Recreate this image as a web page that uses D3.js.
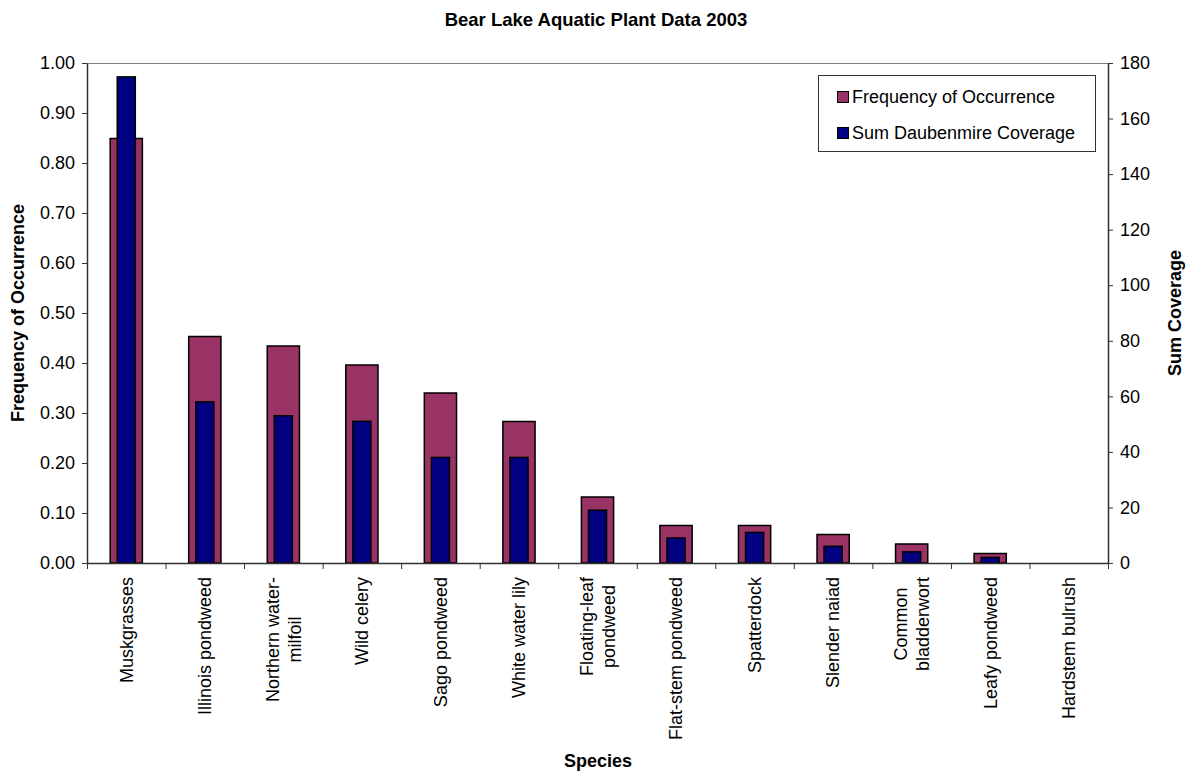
<!DOCTYPE html>
<html>
<head>
<meta charset="utf-8">
<script src="https://cdn.jsdelivr.net/npm/d3@7"></script>
<style>
  html, body { margin: 0; padding: 0; background: #fff; }
  svg { display: block; font-family: "Liberation Sans", Arial, sans-serif; }
</style>
</head>
<body>
<svg id="chart" width="1190" height="771"></svg>
<script>
// Species (line breaks mark where a long name wraps under the axis)
const categories = [
  "Muskgrasses",
  "Illinois pondweed",
  "Northern water-\nmilfoil",
  "Wild celery",
  "Sago pondweed",
  "White water lily",
  "Floating-leaf\npondweed",
  "Flat-stem pondweed",
  "Spatterdock",
  "Slender naiad",
  "Common\nbladderwort",
  "Leafy pondweed",
  "Hardstem bulrush"
];
// Frequency of occurrence (left axis)
const frequency = [0.849, 0.453, 0.434, 0.396, 0.340, 0.283, 0.132, 0.075, 0.075, 0.057, 0.038, 0.019, 0];
// Sum of Daubenmire coverage (right axis)
const coverage = [175, 58, 53, 51, 38, 38, 19, 9, 11, 6, 4, 2, 0];
const freqTicks = [0, 0.1, 0.2, 0.3, 0.4, 0.5, 0.6, 0.7, 0.8, 0.9, 1.0];
const coverageTicks = [0, 20, 40, 60, 80, 100, 120, 140, 160, 180];
const seriesNames = ["Frequency of Occurrence", "Sum Daubenmire Coverage"];
const seriesColors = ["#993366", "#000080"];

const svg = d3.select("#chart");
const plot = { left: 87, right: 1108, top: 63, bottom: 563 };

const x = d3.scaleBand().domain(categories).range([plot.left, plot.right]);
const xIdx = d3.scaleLinear().domain([0, categories.length]).range([plot.left, plot.right]);
const yFreq = d3.scaleLinear().domain([0, 1]).range([plot.bottom, plot.top]);
const yCov = d3.scaleLinear().domain([0, 180]).range([plot.bottom, plot.top]);

// Plot-area top edge
svg.append("line")
  .attr("x1", plot.left).attr("x2", plot.right)
  .attr("y1", plot.top + 0.5).attr("y2", plot.top + 0.5)
  .attr("stroke", "#808080").attr("stroke-width", 1);

const bw = x.bandwidth();
const freqW = bw * 0.41;
const covW = bw * 0.23;

// Frequency bars
svg.append("g").selectAll("rect")
  .data(categories.map((c, i) => ({ c, v: frequency[i] })).filter(d => d.v > 0))
  .join("rect")
  .attr("x", d => x(d.c) + (bw - freqW) / 2)
  .attr("width", freqW)
  .attr("y", d => yFreq(d.v))
  .attr("height", d => plot.bottom - yFreq(d.v))
  .attr("fill", seriesColors[0])
  .attr("stroke", "#000").attr("stroke-width", 1.5);

// Coverage bars, drawn in front
svg.append("g").selectAll("rect")
  .data(categories.map((c, i) => ({ c, v: coverage[i] })).filter(d => d.v > 0))
  .join("rect")
  .attr("x", d => x(d.c) + (bw - covW) / 2)
  .attr("width", covW)
  .attr("y", d => yCov(d.v))
  .attr("height", d => plot.bottom - yCov(d.v))
  .attr("fill", seriesColors[1])
  .attr("stroke", "#000").attr("stroke-width", 1.5);

const tickFont = 18;

// Left axis
const left = svg.append("g")
  .attr("transform", `translate(${plot.left},0)`)
  .call(d3.axisLeft(yFreq).tickValues(freqTicks).tickFormat(d3.format(".2f")).tickSize(5).tickSizeOuter(0).tickPadding(7));
// Right axis
const right = svg.append("g")
  .attr("transform", `translate(${plot.right},0)`)
  .call(d3.axisRight(yCov).tickValues(coverageTicks).tickSize(5).tickSizeOuter(0).tickPadding(7));
// Category axis: ticks between the species
const bottom = svg.append("g")
  .attr("transform", `translate(0,${plot.bottom})`)
  .call(d3.axisBottom(xIdx).tickValues(d3.range(0, categories.length + 1)).tickFormat("").tickSize(6).tickSizeOuter(0));

[left, right, bottom].forEach(g => {
  g.selectAll("path.domain").attr("stroke", "#333").attr("stroke-width", 1.5);
  g.selectAll(".tick line").attr("stroke", "#333");
  g.selectAll(".tick text").attr("font-size", tickFont).attr("fill", "#000")
    .attr("font-family", '"Liberation Sans", Arial, sans-serif');
});

// Rotated species labels, each block centred on its bar
const lineH = 22;
const labelTop = 577;
categories.forEach(c => {
  const lines = c.split("\n");
  const g = svg.append("g")
    .attr("transform", `translate(${x(c) + bw / 2},${labelTop}) rotate(-90)`);
  const texts = lines.map((ln, k) => g.append("text")
    .attr("y", (k - (lines.length - 1) / 2) * lineH)
    .attr("dy", "0.35em")
    .attr("font-size", tickFont)
    .attr("text-anchor", "middle")
    .text(ln));
  const maxW = d3.max(texts, t => t.node().getComputedTextLength());
  texts.forEach(t => t.attr("x", -maxW / 2));
});

// Titles
svg.append("text")
  .attr("x", 596).attr("y", 26)
  .attr("text-anchor", "middle").attr("font-size", 18.5).attr("font-weight", "bold")
  .text("Bear Lake Aquatic Plant Data 2003");
svg.append("text")
  .attr("transform", `translate(18,${(plot.top + plot.bottom) / 2}) rotate(-90)`)
  .attr("text-anchor", "middle").attr("dy", "0.35em")
  .attr("font-size", 18).attr("font-weight", "bold")
  .text("Frequency of Occurrence");
svg.append("text")
  .attr("transform", `translate(1175,${(plot.top + plot.bottom) / 2}) rotate(-90)`)
  .attr("text-anchor", "middle").attr("dy", "0.35em")
  .attr("font-size", 18).attr("font-weight", "bold")
  .text("Sum Coverage");
svg.append("text")
  .attr("x", 598).attr("y", 767)
  .attr("text-anchor", "middle")
  .attr("font-size", 18).attr("font-weight", "bold")
  .text("Species");

// Legend
const lg = svg.append("g");
lg.append("rect")
  .attr("x", 818.5).attr("y", 75.5).attr("width", 277).attr("height", 76)
  .attr("fill", "#fff").attr("stroke", "#333").attr("stroke-width", 1);
seriesNames.forEach((name, i) => {
  const cy = 97 + i * 36;
  lg.append("rect")
    .attr("x", 837.5).attr("y", cy - 5.5).attr("width", 11).attr("height", 11)
    .attr("fill", seriesColors[i]).attr("stroke", "#000").attr("stroke-width", 1);
  lg.append("text")
    .attr("x", 852).attr("y", cy).attr("dy", "0.35em")
    .attr("font-size", 18)
    .text(name);
});
</script>
</body>
</html>
